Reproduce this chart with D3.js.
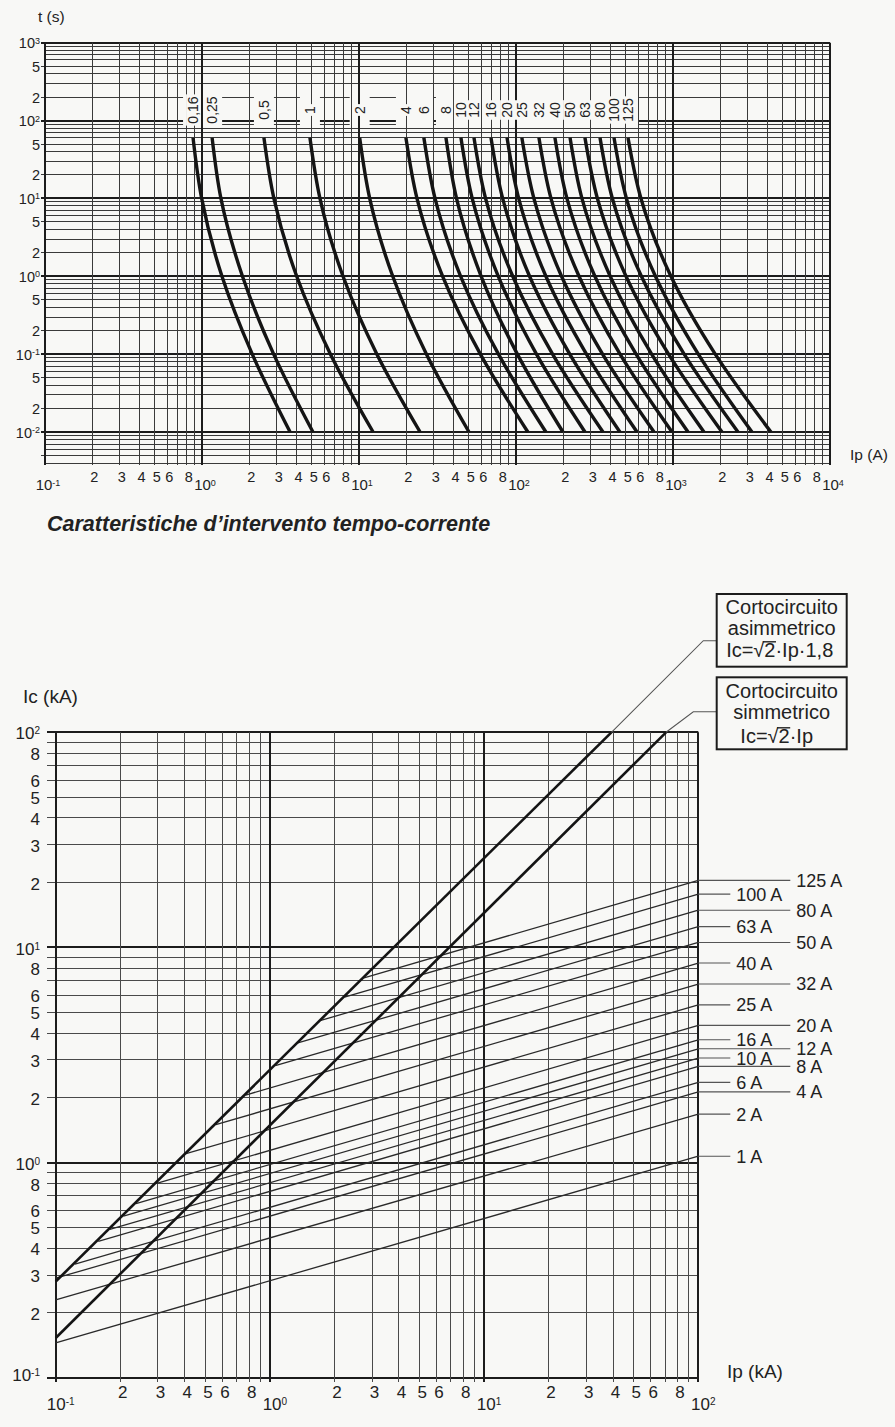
<!DOCTYPE html>
<html><head><meta charset="utf-8">
<script src="https://cdn.jsdelivr.net/npm/d3@7"></script>
<style>
html,body{margin:0;padding:0;background:#f8f8f6;}
svg{display:block;}
text{font-family:"Liberation Sans",Arial,Helvetica,sans-serif;fill:#222;}
</style></head><body>
<svg id="c" width="895" height="1427"></svg>
<script>
// ---------- DATA: top chart (time-current characteristics) ----------
const fuseRatings = ["0,16","0,25","0,5","1","2","4","6","8","10","12","16","20","25","32","40","50","63","80","100","125"];
const curveTimes = [60, 10, 1, 0.1, 0.01];           // t (s) at which currents are read
const iAt60s   = [0.877,1.16,2.48,4.87,10.1,19.9,25.9,35.8,44.6,54,69.3,87.7,109,140,177,221,275,343,421,517];
const iAt10s   = [0.995,1.32,2.87,5.64,11.7,23.4,30.5,41.8,52.6,64,82.2,104,130,167,211,263,330,411,505,625];
const iAt1s    = [1.34,1.81,4.01,7.91,16.4,34.1,44.4,60,77.1,95.3,122,155,195,252,318,398,502,629,773,970];
const iAt01s   = [2.09,2.86,6.58,13.0,26.9,59.3,77.3,102,135,171,220,281,356,460,582,731,937,1178,1449,1858];
const iAt001s  = [3.64,5.09,12.3,24.5,50.2,119,155,199,275,358,459,590,757,986,1247,1575,2051,2594,3184,4207];
const topXDigits = [2,3,4,5,6,8];
const topYDigits = [2,5];

// ---------- DATA: bottom chart (cut-off current) ----------
const asymLine = [[0.1, 0.28], [39.3, 100]];   // Ic = √2·Ip·1,8
const symLine  = [[0.1, 0.153], [70.7, 100]];  // Ic = √2·Ip
const fuseAmps = ["1 A","2 A","4 A","6 A","8 A","10 A","12 A","16 A","20 A","25 A","32 A","40 A","50 A","63 A","80 A","100 A","125 A"];
const startIp = [0.1,0.1,0.1,0.123,0.158,0.179,0.207,0.237,0.296,0.406,0.559,0.771,1.06,1.35,1.73,2.23,2.75];
const startIc = [0.145,0.23,0.29,0.337,0.43,0.489,0.563,0.645,0.80,1.10,1.50,2.06,2.82,3.60,4.58,5.87,7.22];
const endIp = 100;
const endIc = [1.07,1.68,2.13,2.36,2.80,3.06,3.38,3.72,4.34,5.41,6.76,8.46,10.55,12.5,14.9,17.7,20.5];
const botDigits = [2,3,4,5,6,8];

// ---------- helpers ----------
const BG = "#f8f8f6";
const svg = d3.select("#c");
svg.append("rect").attr("width",895).attr("height",1427).attr("fill",BG);

function grid(lo, hi){
  const out=[];
  const d0=Math.floor(Math.log10(lo)), d1=Math.ceil(Math.log10(hi));
  for(let d=d0; d<=d1; d++) for(let k=1;k<=9;k++){
    const v=k*Math.pow(10,d);
    if(v>=lo*0.999 && v<=hi*1.001) out.push({v,k,d});
  }
  return out;
}
const c1 = v => Math.floor(v)+0.5;
const c2 = v => Math.round(v);
function decade(sel, d, supSize){
  sel.append("tspan").text("10");
  sel.append("tspan").attr("dy","-0.5em").attr("font-size",supSize).text(d<0?("-"+(-d)):String(d));
}

// ================= TOP CHART =================
const tx = d3.scaleLog().domain([0.1,1e4]).range([45,830]);
const ty = d3.scaleLog().domain([0.004,1000]).range([463,42.7]);
const topG = svg.append("g");
const tGridY = grid(0.004,1000);
const tGridX = grid(0.1,1e4);

// horizontal grid
const gH = topG.append("g");
tGridY.forEach(g=>{
  const y = ty(g.v), major = g.k===1, lab = major||g.k===2||g.k===5;
  const yy = major?c2(y):c1(y);
  gH.append("line").attr("x1",lab?41:tx(0.1)).attr("x2",tx(1e4)).attr("y1",yy).attr("y2",yy)
    .attr("stroke",major?"#1c1c1c":"#3a3a3a").attr("stroke-width",major?2:1);
});
// label band masks (hide horizontal lines)
const labY = 110;
const gBand = topG.append("g");
fuseRatings.forEach((r,i)=>{
  const x = tx(iAt60s[i]);
  gBand.append("rect").attr("x",x-10).attr("y",84).attr("width",20).attr("height",42).attr("fill",BG);
});
// vertical grid
const gV = topG.append("g");
tGridX.forEach(g=>{
  const x = tx(g.v), major = g.k===1;
  const xx = major?c2(x):c1(x);
  gV.append("line").attr("x1",xx).attr("x2",xx).attr("y1",ty(1000)).attr("y2",ty(0.004)+2)
    .attr("stroke",major?"#1c1c1c":"#3a3a3a").attr("stroke-width",major?2:1);
});
// fuse rating labels
const gLab = topG.append("g");
fuseRatings.forEach((r,i)=>{
  const x = tx(iAt60s[i]);
  const g = gLab.append("g").attr("transform",`translate(${x},${labY}) rotate(-90)`);
  const rc = g.append("rect").attr("fill",BG);
  const t = g.append("text").attr("text-anchor","middle").attr("dy","0.36em").attr("font-size",14).text(r);
  const L = t.node().getComputedTextLength();
  rc.attr("x",-L/2-2).attr("y",-7).attr("width",L+4).attr("height",14);
});
// curves
const curveLine = d3.line().x(d=>tx(d[0])).y(d=>ty(d[1])).curve(d3.curveMonotoneY);
const gC = topG.append("g");
fuseRatings.forEach((r,i)=>{
  const pts = [iAt60s[i],iAt10s[i],iAt1s[i],iAt01s[i],iAt001s[i]].map((I,j)=>[I,curveTimes[j]]);
  gC.append("path").attr("d",curveLine(pts)).attr("fill","none").attr("stroke","#141414")
    .attr("stroke-width",3.4).attr("stroke-linecap","butt");
});
// y tick labels
const gYL = topG.append("g").attr("font-size",14.5);
tGridY.filter(g=>g.v>=0.0099 && (g.k===1||topYDigits.includes(g.k))).forEach(g=>{
  const t = gYL.append("text").attr("x",40).attr("y",ty(g.v)).attr("dy","0.38em").attr("text-anchor","end");
  if(g.k===1) decade(t,g.d,9); else t.text(g.k);
});
// x tick labels
const gXL = topG.append("g").attr("font-size",14.5);
tGridX.filter(g=>g.k===1||topXDigits.includes(g.k)).forEach(g=>{
  if(g.k===1){
    const t = gXL.append("text").attr("x",tx(g.v)+3).attr("y",490).attr("text-anchor","middle").attr("font-size",15);
    decade(t,g.d,9);
  } else {
    gXL.append("text").attr("x",tx(g.v)+2).attr("y",482).attr("text-anchor","middle").text(g.k);
  }
});
topG.append("text").attr("x",38).attr("y",22).attr("font-size",15.5).text("t (s)");
topG.append("text").attr("x",850).attr("y",460).attr("font-size",15.5).text("Ip (A)");
svg.append("text").attr("x",47).attr("y",531).attr("font-size",21.5).attr("font-weight","bold")
  .attr("font-style","italic").attr("fill","#1a1a1a").text("Caratteristiche d\u2019intervento tempo-corrente");

// ================= BOTTOM CHART =================
const bx = d3.scaleLog().domain([0.1,100]).range([55.7,698.3]);
const by = d3.scaleLog().domain([0.1,100]).range([1377.7,732.3]);
const botG = svg.append("g");
const bGrid = grid(0.1,100);
bGrid.forEach(g=>{
  const y = by(g.v), major = g.k===1;
  const yy = major?c2(y):c1(y);
  botG.append("line").attr("x1",47).attr("x2",bx(100)).attr("y1",yy).attr("y2",yy)
    .attr("stroke",major?"#1c1c1c":"#4a4a4a").attr("stroke-width",major?2:1);
});
bGrid.forEach(g=>{
  const x = bx(g.v), major = g.k===1;
  const xx = major?c2(x):c1(x);
  botG.append("line").attr("x1",xx).attr("x2",xx).attr("y1",by(100)).attr("y2",1382)
    .attr("stroke",major?"#1c1c1c":"#4a4a4a").attr("stroke-width",major?2:1);
});
// fuse let-through lines
const lin = d3.line().x(d=>bx(d[0])).y(d=>by(d[1]));
fuseAmps.forEach((a,i)=>{
  botG.append("path").attr("d",lin([[startIp[i],startIc[i]],[endIp,endIc[i]]]))
    .attr("fill","none").attr("stroke","#2a2a2a").attr("stroke-width",1.3);
  const col = i<2 ? 0 : (i%2===0 ? 1 : 0);
  const y = by(endIc[i]);
  const xr = bx(100);
  botG.append("line").attr("x1",xr).attr("x2",col?xr+92:xr+32).attr("y1",y).attr("y2",y)
    .attr("stroke","#555").attr("stroke-width",1.1);
  botG.append("text").attr("x",col?xr+98:xr+38).attr("y",y).attr("dy","0.36em")
    .attr("font-size",18).text(a);
});
// asymmetric / symmetric lines
botG.append("path").attr("d",lin(asymLine)).attr("fill","none").attr("stroke","#141414").attr("stroke-width",2.6);
botG.append("path").attr("d",lin(symLine)).attr("fill","none").attr("stroke","#141414").attr("stroke-width",2.6);

// y labels
const bYL = botG.append("g").attr("font-size",17);
bGrid.filter(g=>g.k===1||botDigits.includes(g.k)).forEach(g=>{
  const t = bYL.append("text").attr("x",40).attr("y",by(g.v)+1).attr("dy","0.36em").attr("text-anchor","end");
  if(g.k===1){ decade(t,g.d,10); if(g.v<0.11) t.attr("y",by(g.v)-3); }
  else t.text(g.k);
});
// x labels
const bXL = botG.append("g").attr("font-size",17);
bGrid.filter(g=>g.k===1||botDigits.includes(g.k)).forEach(g=>{
  if(g.k===1){
    const t = bXL.append("text").attr("x",bx(g.v)+5).attr("y",1410).attr("text-anchor","middle");
    decade(t,g.d,10);
  } else {
    bXL.append("text").attr("x",bx(g.v)+2.5).attr("y",1398).attr("text-anchor","middle").text(g.k);
  }
});
botG.append("text").attr("x",23).attr("y",703).attr("font-size",19).text("Ic (kA)");
botG.append("text").attr("x",727).attr("y",1378).attr("font-size",19).text("Ip (kA)");

// annotation boxes
function box(yTop, h, lines, leaderY, elbowX, target){
  const bxL = 716.7, bw = 130;
  botG.append("polyline").attr("points",[[bxL,leaderY],[elbowX,leaderY],[bx(target[0]),by(target[1])]].map(p=>p.join(",")).join(" "))
    .attr("fill","none").attr("stroke","#555").attr("stroke-width",1.1);
  botG.append("rect").attr("x",bxL).attr("y",yTop).attr("width",bw).attr("height",h)
    .attr("fill",BG).attr("stroke","#1c1c1c").attr("stroke-width",2);
  lines.forEach(l=>{
    const t = botG.append("text").attr("x",l.x).attr("y",l.y).attr("font-size",20).attr("text-anchor",l.anchor||"middle").text(l.s);
    if(l.root!==undefined){
      const n = t.node();
      const e1 = n.getExtentOfChar(l.root), e2 = n.getExtentOfChar(l.root+1);
      const yb = l.y - 15.2;
      botG.append("line").attr("x1",e1.x+e1.width-1.5).attr("x2",e2.x+e2.width+0.5).attr("y1",yb).attr("y2",yb)
        .attr("stroke","#222").attr("stroke-width",1.4);
    }
  });
}
box(594, 72.7, [
  {s:"Cortocircuito", x:781.7, y:614},
  {s:"asimmetrico", x:781.7, y:635},
  {s:"Ic=\u221A2\u00B7Ip\u00B71,8", x:779.7, y:657, root:3}
], 640.7, 703.3, asymLine[1]);
box(677.3, 72, [
  {s:"Cortocircuito", x:781.7, y:698},
  {s:"simmetrico", x:781.7, y:719},
  {s:"Ic=\u221A2\u00B7Ip", x:776.7, y:743, root:3}
], 711.7, 693.3, symLine[1]);
</script></body></html>
